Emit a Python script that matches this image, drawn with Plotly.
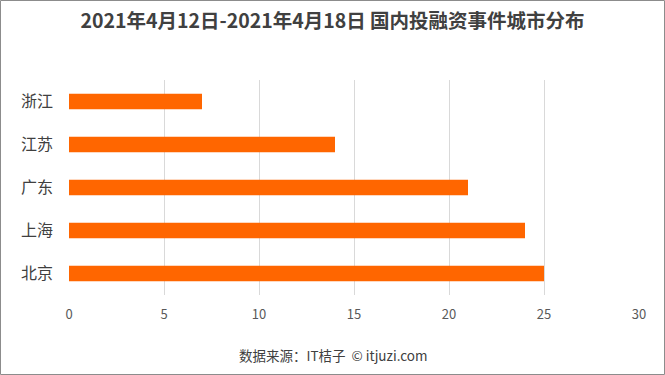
import plotly.graph_objects as go

categories = ["浙江", "江苏", "广东", "上海", "北京"]
values = [7, 14, 21, 24, 25]
x_ticks = [0, 5, 10, 15, 20, 25, 30]

W, H = 665, 375
L, R, T, B = 69, 26, 80, 80
pw, ph = W - L - R, H - T - B

fig = go.Figure(go.Bar(
    y=categories, x=values, orientation="h",
    marker=dict(color="#FF6600", line=dict(width=0)),
    width=0.36,
))

fig.update_layout(
    width=W, height=H,
    margin=dict(l=L, r=R, t=T, b=B),
    paper_bgcolor="white", plot_bgcolor="white",
    font=dict(family="Noto Sans CJK SC, sans-serif", color="#595959", size=12),
    showlegend=False,
    title=dict(
        text="<b>2021年4月12日-2021年4月18日 国内投融资事件城市分布</b>",
        x=0.5, xanchor="center", y=1 - 21 / H, yanchor="middle",
        font=dict(size=19.5, color="#404040"),
    ),
    xaxis=dict(
        range=[0, 30], tickvals=x_ticks, showgrid=True, gridcolor="#D9D9D9",
        gridwidth=1, zeroline=False, showline=False, ticks="",
        tickfont=dict(size=13, color="#595959"), ticklabelstandoff=10,
    ),
    yaxis=dict(
        autorange="reversed", showgrid=False, showline=False, ticks="",
        tickfont=dict(size=16, color="#404040"), ticklabelstandoff=15,
    ),
)

fig.add_annotation(
    text="数据来源：IT桔子  © itjuzi.com", xref="paper", yref="paper",
    x=(333 - L) / pw, y=-(355 - (T + ph)) / ph, xanchor="center", yanchor="middle",
    showarrow=False, font=dict(size=13.5, color="#404040"),
)

fig.add_shape(
    type="rect", xref="paper", yref="paper",
    x0=-(L - 0.5) / pw, x1=(W - L - 0.5) / pw,
    y0=-(B - 0.5) / ph, y1=(T + ph - 0.5) / ph,
    line=dict(color="#8C8C8C", width=1), fillcolor="rgba(0,0,0,0)", layer="above",
)

fig.write_html(
    "out.html",
    config={"displayModeBar": False},
    post_script="document.body.style.margin='0';document.body.style.overflow='hidden';",
)
